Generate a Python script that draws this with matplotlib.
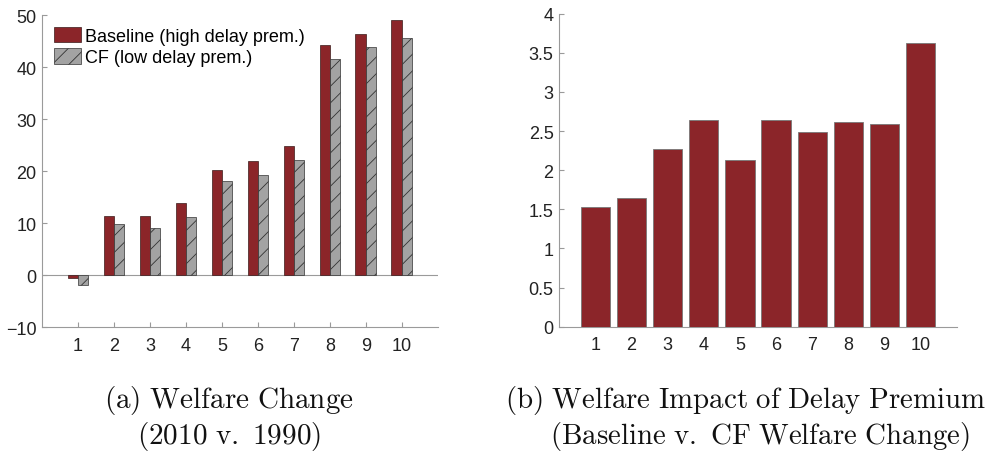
import matplotlib
matplotlib.use("Agg")
from matplotlib import pyplot as plt
import numpy as np

# data
groups = [1, 2, 3, 4, 5, 6, 7, 8, 9, 10]
baseline = [-0.5, 11.4, 11.4, 13.9, 20.1, 21.9, 24.8, 44.2, 46.3, 49.1]
cf = [-2.0, 9.8, 9.1, 11.2, 18.0, 19.3, 22.2, 41.5, 43.8, 45.6]
impact = [1.53, 1.65, 2.27, 2.645, 2.13, 2.645, 2.49, 2.61, 2.585, 3.625]

left_yticks = [-10, 0, 10, 20, 30, 40, 50]
right_yticks = [0, 0.5, 1, 1.5, 2, 2.5, 3, 3.5, 4]
right_yticklabels = ["0", "0.5", "1", "1.5", "2", "2.5", "3", "3.5", "4"]

legend_labels = ["Baseline (high delay prem.)", "CF (low delay prem.)"]
caption_a = [r"$\mathrm{(a)\ Welfare\ Change}$", r"$\mathrm{(2010\ v.\ 1990)}$"]
caption_b = [r"$\mathrm{(b)\ Welfare\ Impact\ of\ Delay\ Premium}$",
             r"$\mathrm{(Baseline\ v.\ CF\ Welfare\ Change)}$"]

RED = "#8B2529"
GRAY = "#A3A3A3"
SPINE = "#9a9a9a"

plt.rcParams["font.family"] = ["Liberation Sans", "DejaVu Sans"]
plt.rcParams["mathtext.fontset"] = "cm"
plt.rcParams["hatch.linewidth"] = 0.6


def style_axes(ax):
    for s in ["top", "right"]:
        ax.spines[s].set_visible(False)
    for s in ["left", "bottom"]:
        ax.spines[s].set_color(SPINE)
        ax.spines[s].set_linewidth(0.8)
    ax.tick_params(direction="in", length=3.5, width=0.8, color=SPINE,
                   labelsize=13, labelcolor="#222222", pad=4)
    ax.tick_params(axis="x", pad=7)


fig = plt.figure(figsize=(9.93, 4.52), dpi=100)

# (a) grouped bars
ax1 = fig.add_axes([0.0423, 0.2743, 0.3987, 0.6903])
x = np.array(groups)
w = 0.29
ax1.bar(x - w / 2, baseline, w, color=RED, edgecolor="#3a1a1a", linewidth=0.5,
        label=legend_labels[0], zorder=3)
ax1.bar(x + w / 2, cf, w, color=GRAY, edgecolor="#333333", linewidth=0.5,
        hatch="//", label=legend_labels[1], zorder=3)
ax1.axhline(0, color=SPINE, linewidth=0.8, zorder=2)
ax1.set_xlim(0, 11)
ax1.set_ylim(-10, 50)
ax1.set_xticks(groups)
ax1.set_yticks(left_yticks)
style_axes(ax1)
ax1.legend(loc="upper left", frameon=False, fontsize=13, handlelength=1.5,
           handleheight=0.95, handletextpad=0.25, labelspacing=0.2,
           borderaxespad=0.25, bbox_to_anchor=(0.0, 1.0))

# (b) single bars
ax2 = fig.add_axes([0.563, 0.275, 0.4007, 0.6925])
ax2.bar(groups, impact, 0.81, color=RED, edgecolor="#777777", linewidth=0.6,
        zorder=3)
ax2.set_xlim(0, 11)
ax2.set_ylim(0, 4)
ax2.set_xticks(groups)
ax2.set_yticks(right_yticks)
ax2.set_yticklabels(right_yticklabels)
style_axes(ax2)

# captions
fig.text(229 / 993, 1 - 401 / 452, caption_a[0], ha="center", va="center",
         fontsize=21, color="#111111")
fig.text(229 / 993, 1 - 437 / 452, caption_a[1], ha="center", va="center",
         fontsize=21, color="#111111")
fig.text(745 / 993, 1 - 401 / 452, caption_b[0], ha="center", va="center",
         fontsize=20.8, color="#111111")
fig.text(760 / 993, 1 - 437 / 452, caption_b[1], ha="center", va="center",
         fontsize=20.8, color="#111111")

fig.savefig("out.png", dpi=100)
